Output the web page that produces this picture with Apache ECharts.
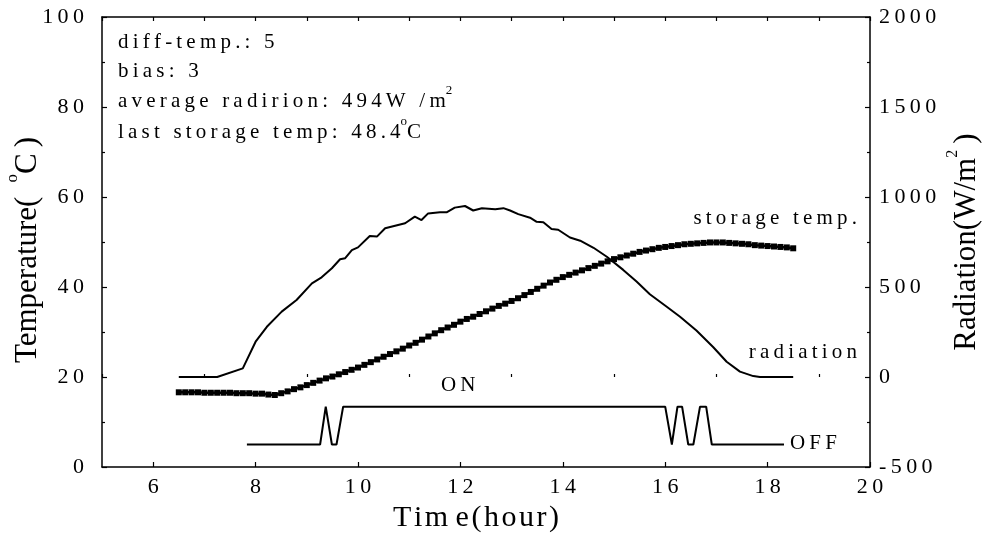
<!DOCTYPE html>
<html><head><meta charset="utf-8">
<script src="https://cdn.jsdelivr.net/npm/echarts@6/dist/echarts.min.js"></script>
<style>html,body{margin:0;padding:0;background:#fff}#c{width:984px;height:535px}</style>
</head><body><div id="c"></div>
<script>
// ---- data ----
const storageTime = [6.5,6.625,6.75,6.875,7.0,7.125,7.25,7.375,7.5,7.625,7.75,7.875,8.0,8.125,8.25,8.375,8.5,8.625,8.75,8.875,9.0,9.125,9.25,9.375,9.5,9.625,9.75,9.875,10.0,10.125,10.25,10.375,10.5,10.625,10.75,10.875,11.0,11.125,11.25,11.375,11.5,11.625,11.75,11.875,12.0,12.125,12.25,12.375,12.5,12.625,12.75,12.875,13.0,13.125,13.25,13.375,13.5,13.625,13.75,13.875,14.0,14.125,14.25,14.375,14.5,14.625,14.75,14.875,15.0,15.125,15.25,15.375,15.5,15.625,15.75,15.875,16.0,16.125,16.25,16.375,16.5,16.625,16.75,16.875,17.0,17.125,17.25,17.375,17.5,17.625,17.75,17.875,18.0,18.125,18.25,18.375,18.5];
const storageTemp = [16.6,16.6,16.6,16.6,16.5,16.5,16.5,16.5,16.5,16.4,16.4,16.4,16.3,16.3,16.1,16.0,16.4,16.8,17.3,17.7,18.2,18.7,19.2,19.7,20.1,20.6,21.1,21.6,22.1,22.7,23.3,23.9,24.5,25.1,25.7,26.3,27.0,27.6,28.3,29.0,29.7,30.4,31.0,31.6,32.3,32.9,33.4,34.0,34.6,35.2,35.8,36.3,36.9,37.5,38.2,38.9,39.6,40.3,41.0,41.6,42.2,42.7,43.2,43.7,44.2,44.7,45.2,45.7,46.2,46.6,47.0,47.4,47.8,48.1,48.4,48.7,48.9,49.1,49.3,49.5,49.6,49.7,49.8,49.9,49.9,49.9,49.8,49.7,49.6,49.5,49.3,49.2,49.1,49.0,48.9,48.8,48.6];

const radTime = [6.5,7.25,7.75,8.0,8.22,8.51,8.8,9.1,9.29,9.49,9.65,9.75,9.88,10.0,10.23,10.37,10.53,10.92,11.11,11.24,11.37,11.6,11.73,11.89,12.09,12.25,12.42,12.68,12.84,12.97,13.13,13.36,13.49,13.62,13.78,13.91,14.14,14.34,14.6,14.86,15.18,15.44,15.70,16.03,16.29,16.61,16.94,17.2,17.46,17.72,17.85,18.5];
const radVal = [0,0,48,196,279,363,428,520,554,604,654,660,705,720,783,780,826,854,891,872,909,915,915,941,950,925,938,932,938,925,905,885,862,860,822,818,775,757,718,668,595,530,460,390,335,258,165,85,30,5,0,0];

const pumpTime = [7.83,9.26,9.37,9.49,9.58,9.71,16.0,16.13,16.24,16.33,16.45,16.55,16.68,16.8,16.91,18.32];
const pumpLevel = [5,5,13.4,5,5,13.4,13.4,5,13.4,13.4,5,5,13.4,13.4,5,5];

const xLabelValues = [6,8,10,12,14,16,18,20];
const xMinorValues = [5,7,9,11,13,15,17,19];
const xAllValues = [5,6,7,8,9,10,11,12,13,14,15,16,17,18,19,20];

// ---- chart ----
const FF = 'Liberation Serif';
const sp = s => String(s).split('').join('\u2009');
const hs = s => String(s).split('').join('\u200A');
const zip = (a, b) => a.map((v, i) => [v, b[i]]);
const axisLineStyle = {color: '#000', width: 1.5};
const tickStyle = {color: '#000', width: 1.2};

const chart = echarts.init(document.getElementById('c'), null, {renderer: 'canvas'});
const txt = (x, y, text, align, rich) => ({
  type: 'text', x: x, y: y, silent: true,
  style: {text: text, fill: '#000', font: '21px ' + FF, align: align || 'left', verticalAlign: 'middle', rich: rich}
});
const supRich = {
  a: {fontSize: 21, fontFamily: FF, color: '#000', lineHeight: 34},
  s: {fontSize: 13, fontFamily: FF, color: '#000', lineHeight: 14, verticalAlign: 'top'}
};

chart.setOption({
  animation: false,
  backgroundColor: '#fff',
  grid: {left: 102, right: 114, top: 17, bottom: 68, containLabel: false, outerBoundsMode: 'none'},
  xAxis: [
    {type: 'value', min: 5, max: 20, position: 'bottom',
     axisLine: {show: true, lineStyle: axisLineStyle},
     axisTick: {show: true, inside: true, length: 5, customValues: xLabelValues, lineStyle: tickStyle},
     axisLabel: {customValues: xLabelValues, formatter: v => sp(v), fontFamily: FF, fontSize: 22, color: '#000', margin: 9},
     splitLine: {show: false},
     name: hs('Tim') + ' ' + hs('e(hour)'), nameLocation: 'middle', nameGap: 36, nameMoveOverlap: false,
     nameTextStyle: {fontFamily: FF, fontSize: 30, color: '#000', padding: [0, 20, 0, 0]}},
    {type: 'value', min: 5, max: 20, position: 'bottom',
     axisLine: {show: false},
     axisTick: {show: true, inside: true, length: 3, customValues: xMinorValues, lineStyle: tickStyle},
     axisLabel: {show: false}, splitLine: {show: false}},
    {type: 'value', min: 5, max: 20, position: 'top',
     axisLine: {show: true, lineStyle: axisLineStyle},
     axisTick: {show: true, inside: true, length: 4, customValues: xAllValues, lineStyle: tickStyle},
     axisLabel: {show: false}, splitLine: {show: false}}
  ],
  yAxis: [
    {type: 'value', min: 0, max: 100, interval: 20, position: 'left',
     axisLine: {show: true, lineStyle: axisLineStyle},
     axisTick: {show: true, inside: true, length: 5, lineStyle: tickStyle},
     minorTick: {show: true, splitNumber: 2, length: 3, lineStyle: tickStyle},
     axisLabel: {formatter: v => sp(v), fontFamily: FF, fontSize: 22, color: '#000', margin: 18},
     splitLine: {show: false}, minorSplitLine: {show: false},
     name: '{a|Temperature(\u2009 }{s|o}{a|C\u2009)}', nameLocation: 'middle', nameGap: 50, nameRotate: 90, nameMoveOverlap: false,
     nameTextStyle: {fontFamily: FF, fontSize: 31, color: '#000', padding: [0, 16, 0, 0], rich: {
       a: {fontFamily: FF, fontSize: 31, color: '#000', lineHeight: 48},
       s: {fontFamily: FF, fontSize: 17, color: '#000', lineHeight: 17, verticalAlign: 'top'}}}},
    {type: 'value', min: -500, max: 2000, interval: 500, position: 'right',
     axisLine: {show: true, lineStyle: axisLineStyle},
     axisTick: {show: true, inside: true, length: 5, lineStyle: tickStyle},
     minorTick: {show: true, splitNumber: 2, length: 3, lineStyle: tickStyle},
     axisLabel: {formatter: v => sp(v), fontFamily: FF, fontSize: 22, color: '#000', margin: 9},
     splitLine: {show: false}, minorSplitLine: {show: false},
     name: '{a|Radiation(W/m}{s|2}{a|\u2009)}', nameLocation: 'middle', nameGap: 75, nameRotate: 90, nameMoveOverlap: false,
     nameTextStyle: {fontFamily: FF, fontSize: 31, color: '#000', rich: {
       a: {fontFamily: FF, fontSize: 31, color: '#000', lineHeight: 44},
       s: {fontFamily: FF, fontSize: 16, color: '#000', lineHeight: 16, verticalAlign: 'top'}}}}
  ],
  series: [
    {name: 'radiation', type: 'line', xAxisIndex: 0, yAxisIndex: 1, data: zip(radTime, radVal),
     showSymbol: false, lineStyle: {color: '#000', width: 2}, z: 3},
    {name: 'storage temp.', type: 'line', xAxisIndex: 0, yAxisIndex: 0, data: zip(storageTime, storageTemp),
     symbol: 'rect', symbolSize: 6, showAllSymbol: true, itemStyle: {color: '#000', borderWidth: 0},
     lineStyle: {color: '#000', width: 2.5}, z: 4},
    {name: 'pump', type: 'line', xAxisIndex: 0, yAxisIndex: 0, data: zip(pumpTime, pumpLevel),
     showSymbol: false, lineStyle: {color: '#000', width: 2}, z: 3}
  ],
  graphic: [
    txt(118, 42, sp('diff-temp.: 5')),
    txt(118, 71, sp('bias: 3')),
    txt(118, 101, '{a|' + sp('average radirion: 494W /m') + '}{s|2}', 'left', supRich),
    txt(118, 132, '{a|' + sp('last storage temp: 48.4') + '}{s|o}{a|C}', 'left', supRich),
    txt(857, 218, sp('storage temp.'), 'right'),
    txt(857, 352, sp('radiation'), 'right'),
    txt(441, 385, sp('ON')),
    txt(790, 443, sp('OFF'))
  ]
});
</script>
</body></html>
